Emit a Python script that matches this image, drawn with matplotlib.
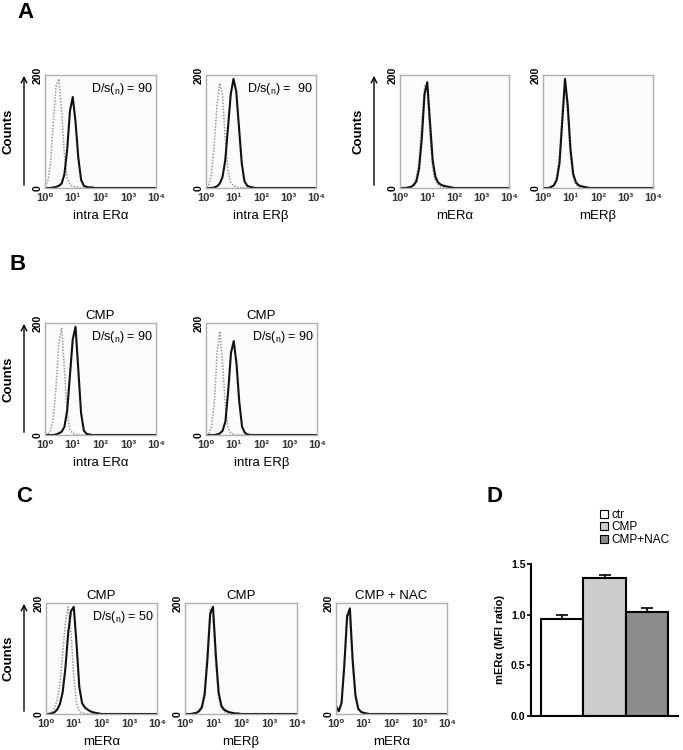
import matplotlib
matplotlib.use("Agg")
import matplotlib.pyplot as plt
from matplotlib.patches import Patch

plt.rcParams['font.family'] = ['Liberation Sans', 'DejaVu Sans']

W, H = 683, 750

# log10 channel positions shared by every histogram (last point = 10^4 baseline)
chan = [0.0, 0.1, 0.2, 0.3, 0.4, 0.5, 0.6, 0.7, 0.8, 0.9, 1.0,
        1.1, 1.2, 1.3, 1.4, 1.5, 1.6, 1.7, 1.8, 1.9, 2.0, 4.0]

# counts (grey = isotype control, black = stained)
a1_gray  = [3, 12, 45, 120, 185, 198, 140, 60, 18, 6, 3, 2, 1, 0, 0, 0, 0, 0, 0, 0, 0, 0]
a1_black = [0, 0, 0, 1, 2, 4, 8, 25, 70, 140, 165, 120, 55, 15, 4, 2, 1, 1, 0, 0, 0, 0]
a2_gray  = [2, 6, 25, 80, 150, 190, 170, 90, 30, 10, 4, 2, 1, 0, 0, 0, 0, 0, 0, 0, 0, 0]
a2_black = [0, 0, 0, 1, 3, 8, 20, 50, 110, 170, 198, 175, 110, 45, 12, 4, 2, 1, 0, 0, 0, 0]
a3_gray  = [0, 0, 0, 1, 3, 7, 18, 50, 120, 185, 175, 95, 35, 12, 5, 2, 1, 0, 0, 0, 0, 0]
a3_black = [0, 0, 0, 1, 2, 5, 12, 35, 90, 170, 192, 120, 50, 20, 10, 6, 4, 3, 2, 1, 0, 0]
a4_gray  = [0, 0, 0, 2, 6, 20, 60, 140, 190, 130, 55, 18, 6, 2, 1, 0, 0, 0, 0, 0, 0, 0]
a4_black = [0, 0, 0, 2, 5, 15, 45, 120, 198, 150, 70, 25, 10, 5, 3, 2, 1, 0, 0, 0, 0, 0]
b1_gray  = [0, 2, 8, 30, 90, 170, 195, 120, 40, 10, 3, 1, 0, 0, 0, 0, 0, 0, 0, 0, 0, 0]
b1_black = [0, 0, 0, 0, 1, 3, 6, 15, 45, 110, 175, 198, 120, 40, 8, 2, 1, 0, 0, 0, 0, 0]
b2_gray  = [0, 3, 15, 60, 150, 190, 130, 50, 12, 3, 1, 0, 0, 0, 0, 0, 0, 0, 0, 0, 0, 0]
b2_black = [0, 0, 0, 0, 1, 3, 8, 25, 80, 150, 172, 130, 60, 15, 4, 1, 0, 0, 0, 0, 0, 0]
c1_gray  = [0, 1, 3, 10, 25, 55, 110, 170, 198, 150, 70, 20, 5, 2, 1, 0, 0, 0, 0, 0, 0, 0]
c1_black = [0, 0, 1, 3, 8, 18, 40, 85, 150, 190, 198, 130, 50, 20, 12, 8, 5, 3, 2, 1, 0, 0]
c2_gray  = [0, 0, 0, 1, 3, 7, 16, 45, 120, 195, 180, 90, 30, 10, 4, 2, 1, 0, 0, 0, 0, 0]
c2_black = [0, 0, 0, 1, 2, 5, 12, 35, 100, 185, 198, 110, 40, 15, 8, 5, 3, 2, 1, 1, 0, 0]
c3_gray  = [12, 5, 25, 100, 185, 175, 85, 28, 8, 3, 1, 0, 0, 0, 0, 0, 0, 0, 0, 0, 0, 0]
c3_black = [15, 5, 20, 90, 180, 195, 100, 35, 10, 4, 2, 1, 0, 0, 0, 0, 0, 0, 0, 0, 0, 0]

xtick_labels = ['10⁰', '10¹', '10²', '10³', '10⁴']

# panel D
groups = ['ctr', 'CMP', 'CMP+NAC']
mfi = [0.96, 1.36, 1.03]
mfi_err = [0.035, 0.03, 0.04]
bar_colors = ['white', '#cccccc', '#8c8c8c']

fig = plt.figure(figsize=(W / 100, H / 100), dpi=100)


def px_axes(x0, y0, x1, y1):
    return fig.add_axes([x0 / W, 1 - y1 / H, (x1 - x0) / W, (y1 - y0) / H])


def hist(x0, x1, y0, y1, gray, black, xlabel, title=None, note=None, counts_x=None):
    ax = px_axes(x0, y0, x1, y1)
    ax.plot(chan, gray, color='#999999', lw=1.1, ls=(0, (1, 1)))
    ax.plot(chan, black, color='#111111', lw=1.5)
    ax.set_xlim(0, 4)
    ax.set_ylim(0, 205)
    ax.set_facecolor('#fbfbfb')
    for s in ax.spines.values():
        s.set_color('#b0b0b0')
        s.set_linewidth(1.0)
    ax.set_xticks([0, 1, 2, 3, 4])
    ax.set_xticklabels(xtick_labels, fontsize=8, fontweight='bold', color='#333333')
    ax.set_yticks([0, 205])
    ax.set_yticklabels(['0', '200'], fontsize=7.5, fontweight='bold', rotation=90, va='center')
    ax.tick_params(length=0, pad=2)
    ax.tick_params(axis='x', pad=3.5)
    ax.set_xlabel(xlabel, fontsize=9.5, labelpad=5, color='black')
    if title:
        ax.set_title(title, fontsize=9.5, pad=3)
    if note:
        ax.text(0.97, 0.95, note, transform=ax.transAxes, ha='right', va='top', fontsize=9)
    if counts_x is not None:
        fig.add_artist(matplotlib.patches.FancyArrowPatch(
            (counts_x / W, 1 - y1 / H), (counts_x / W, 1 - (y0 - 2) / H),
            arrowstyle='->', mutation_scale=10, lw=1.0, color='black',
            transform=fig.transFigure))
        fig.text((counts_x - 15) / W, 1 - (y0 + y1) / 2 / H, 'Counts', rotation=90,
                 ha='center', va='center', fontsize=9.5, fontweight='bold')
    return ax


ds = 'D/s($_\\mathregular{n}$) = '

# row A
hist(45, 156, 75, 188, a1_gray, a1_black, 'intra ERα', note=ds + '90', counts_x=24)
hist(206, 316, 75, 188, a2_gray, a2_black, 'intra ERβ', note=ds + ' 90')
hist(400, 509, 75, 188, a3_gray, a3_black, 'mERα', counts_x=374)
hist(543, 653, 75, 188, a4_gray, a4_black, 'mERβ')

# row B
hist(45, 156, 323, 435, b1_gray, b1_black, 'intra ERα', title='CMP', note=ds + '90', counts_x=24)
hist(206, 317, 323, 435, b2_gray, b2_black, 'intra ERβ', title='CMP', note=ds + '90')

# row C
hist(46, 157, 603, 714, c1_gray, c1_black, 'mERα', title='CMP', note=ds + '50', counts_x=24)
hist(185, 297, 603, 714, c2_gray, c2_black, 'mERβ', title='CMP')
hist(336, 447, 603, 714, c3_gray, c3_black, 'mERα', title='CMP + NAC')

# panel D bars
axd = px_axes(531, 564, 678, 716)
pos = list(range(len(groups)))
axd.bar(pos, mfi, width=1.0, color=bar_colors, edgecolor='black', linewidth=1.5)
axd.errorbar(pos, mfi, yerr=[[0, 0, 0], mfi_err], fmt='none', ecolor='black',
             elinewidth=1.2, capsize=4.5, capthick=1.2)
axd.set_xlim(-0.74, 2.74)
axd.set_ylim(0, 1.5)
axd.set_xticks([])
axd.set_yticks([0, 0.5, 1.0, 1.5])
axd.set_yticklabels(['0.0', '0.5', '1.0', '1.5'], fontsize=7.5, fontweight='bold')
axd.tick_params(axis='y', length=3, width=1.2, pad=1)
axd.spines['top'].set_visible(False)
axd.spines['right'].set_visible(False)
axd.spines['left'].set_linewidth(1.5)
axd.spines['bottom'].set_linewidth(1.5)
axd.set_ylabel('mERα (MFI ratio)', fontsize=8, fontweight='bold', labelpad=4)
handles = [Patch(facecolor=c, edgecolor='black', linewidth=0.8) for c in bar_colors]
fig.legend(handles, groups, loc='upper left', bbox_to_anchor=(594 / W, 1 - 503 / H),
           frameon=False, fontsize=8.5, handlelength=0.7, handleheight=0.7,
           handletextpad=0.3, labelspacing=0.05, borderpad=0)

# panel letters
for letter, (lx, ly) in zip('ABCD', [(25, 12), (18, 264), (24, 496), (494, 496)]):
    fig.text(lx / W, 1 - ly / H, letter, ha='center', va='center', fontsize=16, fontweight='bold')

fig.savefig('out.png', dpi=100)
